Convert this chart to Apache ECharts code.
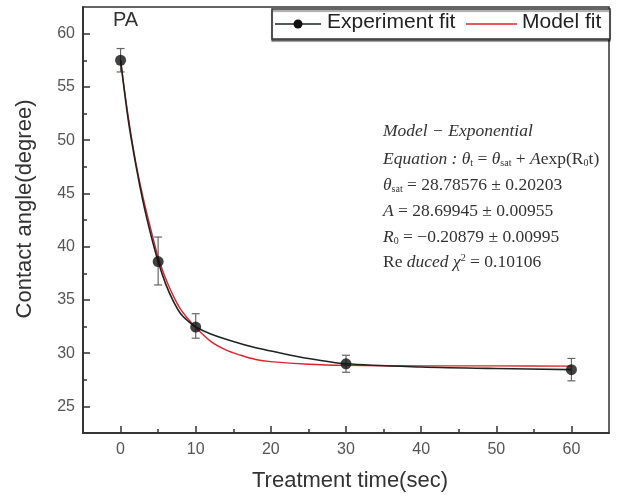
<!DOCTYPE html>
<html>
<head>
<meta charset="utf-8">
<script src="https://cdn.jsdelivr.net/npm/echarts@6/dist/echarts.min.js"></script>
<style>
html,body{margin:0;padding:0;background:#fff;}
#chart{width:617px;height:497px;}
</style>
</head>
<body>
<div id="chart"></div>
<script>
// ---- data ----
const times = [0, 5, 10, 30, 60];
const angles = [57.5, 38.6, 32.45, 29.0, 28.45];
const errLow = [56.4, 36.4, 31.4, 28.2, 27.4];
const errHigh = [58.6, 40.9, 33.7, 29.8, 29.5];

// black "Experiment fit" curve
const expCurveTimes = [0, 1, 2, 3, 4, 5, 6, 7, 8, 9, 10, 12, 15, 18, 20, 25, 30, 40, 50, 60];
const expCurveValues = [57.5, 52.0, 47.8, 44.2, 41.2, 38.6, 36.5, 34.9, 33.7, 33.0, 32.45, 31.8, 31.1, 30.5, 30.2, 29.5, 29.0, 28.7, 28.55, 28.45];

// red "Model fit" curve
const modelTimes = [0, 1, 2, 3, 4, 5, 6, 7, 8, 9, 10, 12, 14, 16, 18, 20, 25, 30, 40, 50, 60];
const modelValues = [57.5, 52.3, 48.0, 44.6, 41.7, 39.0, 37.0, 35.4, 34.1, 33.2, 32.4, 31.1, 30.3, 29.8, 29.4, 29.2, 28.95, 28.85, 28.8, 28.8, 28.78];

const xMajorTicks = [0, 10, 20, 30, 40, 50, 60];
const xMinorTicks = [5, 15, 25, 35, 45, 55];
const yMajorTicks = [25, 30, 35, 40, 45, 50, 55, 60];
const yMinorTicks = [27.5, 32.5, 37.5, 42.5, 47.5, 52.5, 57.5];

const xTitle = 'Treatment time(sec)';
const yTitle = 'Contact angle(degree)';
const panelLabel = 'PA';
const legendNames = ['Experiment fit', 'Model fit'];

// ---- chart ----
const chart = echarts.init(document.getElementById('chart'), null, {renderer: 'canvas'});
const SANS = 'Liberation Sans, Arial, sans-serif';
const SERIF = 'Liberation Serif, Times New Roman, serif';
const X_MIN = -5, X_MAX = 65, Y_MIN = 22.5, Y_MAX = 62.5;
const BLACK = '#111';
const LINE_BLACK = '#1c2620';
const RED = '#e0202a';

function xAxisDef(ticks, len, showLabel, name) {
  return {
    type: 'value', min: X_MIN, max: X_MAX, position: 'bottom',
    name: name || '', nameLocation: 'middle', nameGap: 37,
    nameTextStyle: {fontFamily: SANS, fontSize: 22, color: '#333', padding: [0, 0, 0, 8]},
    axisLine: {show: true, onZero: false, lineStyle: {color: '#333', width: 1.5}},
    axisTick: {show: true, inside: true, length: len, customValues: ticks, lineStyle: {color: '#333', width: 1.5}},
    axisLabel: {show: showLabel, customValues: ticks, fontFamily: SANS, fontSize: 16, color: '#555', margin: 9},
    splitLine: {show: false}
  };
}
function yAxisDef(ticks, len, showLabel) {
  return {
    type: 'value', min: Y_MIN, max: Y_MAX, position: 'left',
    axisLine: {show: true, onZero: false, lineStyle: {color: '#333', width: 1.5}},
    axisTick: {show: true, inside: true, length: len, customValues: ticks, lineStyle: {color: '#333', width: 1.5}},
    axisLabel: {show: showLabel, customValues: ticks, fontFamily: SANS, fontSize: 16, color: '#555', margin: 8},
    splitLine: {show: false}
  };
}

const markerData = times.map((t, i) => [t, angles[i]]);
const errData = times.map((t, i) => [t, errLow[i], errHigh[i]]);
const expCurveData = expCurveTimes.map((t, i) => [t, expCurveValues[i]]);
const modelData = modelTimes.map((t, i) => [t, modelValues[i]]);

const option = {
  backgroundColor: '#fff',
  animation: false,
  grid: {left: 83, right: 8, top: 7, bottom: 64, show: true, borderColor: '#333', borderWidth: 1.5, backgroundColor: 'transparent'},
  xAxis: [xAxisDef(xMajorTicks, 7, true, xTitle), xAxisDef(xMinorTicks, 4, false)],
  yAxis: [yAxisDef(yMajorTicks, 7, true), yAxisDef(yMinorTicks, 4, false)],
  legend: {show: false},
  series: [
    {
      name: 'err', type: 'custom', z: 2,
      renderItem: function (params, api) {
        const x = api.value(0);
        const lo = api.coord([x, api.value(1)]);
        const hi = api.coord([x, api.value(2)]);
        const w = 4;
        const style = {stroke: '#666', lineWidth: 1.2, fill: null};
        return {
          type: 'group',
          children: [
            {type: 'line', shape: {x1: lo[0], y1: lo[1], x2: hi[0], y2: hi[1]}, style: style},
            {type: 'line', shape: {x1: lo[0] - w, y1: lo[1], x2: lo[0] + w, y2: lo[1]}, style: style},
            {type: 'line', shape: {x1: hi[0] - w, y1: hi[1], x2: hi[0] + w, y2: hi[1]}, style: style}
          ]
        };
      },
      encode: {x: 0, y: [1, 2]},
      data: errData
    },
    {
      name: legendNames[0], type: 'line', z: 4,
      data: expCurveData,
      smooth: 0.3,
      symbol: 'none',
      lineStyle: {color: LINE_BLACK, width: 1.6}
    },
    {
      name: legendNames[1], type: 'line', z: 3,
      data: modelData,
      smooth: 0.3,
      symbol: 'none',
      lineStyle: {color: RED, width: 1.4}
    },
    {
      name: 'markers', type: 'scatter', z: 5,
      data: markerData,
      symbol: 'circle', symbolSize: 11,
      itemStyle: {color: BLACK}
    }
  ],
  graphic: [
    // y-axis title
    {type: 'text', x: 25, y: 209, rotation: Math.PI / 2, z: 5,
      style: {text: yTitle, font: '22px ' + SANS, fill: '#333', align: 'center', verticalAlign: 'middle'}},
    {type: 'text', left: 113, top: 10, style: {text: panelLabel, font: '20px ' + SANS, fill: '#333'}},
    // legend box
    {type: 'rect', shape: {x: 272, y: 9, width: 338, height: 30}, z: 10,
      style: {fill: '#fff', stroke: '#333', lineWidth: 1.5, shadowColor: 'rgba(0,0,0,0.45)', shadowOffsetY: 2, shadowBlur: 1}},
    {type: 'line', shape: {x1: 275, y1: 24, x2: 321, y2: 24}, z: 11, style: {stroke: LINE_BLACK, lineWidth: 1.6}},
    {type: 'circle', shape: {cx: 298, cy: 24, r: 4.5}, z: 11, style: {fill: BLACK}},
    {type: 'text', left: 327, top: 12, z: 11, style: {text: legendNames[0], font: '21px ' + SANS, fill: '#222'}},
    {type: 'line', shape: {x1: 466, y1: 24, x2: 517, y2: 24}, z: 11, style: {stroke: RED, lineWidth: 1.4}},
    {type: 'text', left: 522, top: 12, z: 11, style: {text: legendNames[1], font: '21px ' + SANS, fill: '#222'}}
  ]
};

// annotation lines
const FS = 17.5;
const rich = {
  i: {fontFamily: SERIF, fontStyle: 'italic', fontSize: FS, color: '#333'},
  n: {fontFamily: SERIF, fontSize: FS, color: '#333'},
  sub: {fontFamily: SERIF, fontSize: 10, color: '#333', padding: [9, 0, 0, 0]},
  sup: {fontFamily: SERIF, fontSize: 10, color: '#333', padding: [0, 0, 9, 0]}
};
const annLines = [
  '{i|Model \u2212 Exponential}',
  '{i|Equation : \u03b8}{sub|t}{n| = }{i|\u03b8}{sub|sat}{n| + }{i|A}{n|exp(R}{sub|0}{n|t)}',
  '{i|\u03b8}{sub|sat}{n| = 28.78576 \u00b1 0.20203}',
  '{i|A}{n| = 28.69945 \u00b1 0.00955}',
  '{i|R}{sub|0}{n| = \u22120.20879 \u00b1 0.00995}',
  '{n|Re }{i|duced \u03c7}{sup|2}{n| = 0.10106}'
];
const annTops = [122, 150, 176, 202, 228, 253];
annLines.forEach((t, k) => {
  option.graphic.push({
    type: 'text', left: 383, top: annTops[k],
    style: {text: t, rich: rich, font: FS + 'px ' + SERIF, fill: '#333'}
  });
});

chart.setOption(option);
</script>
</body>
</html>
